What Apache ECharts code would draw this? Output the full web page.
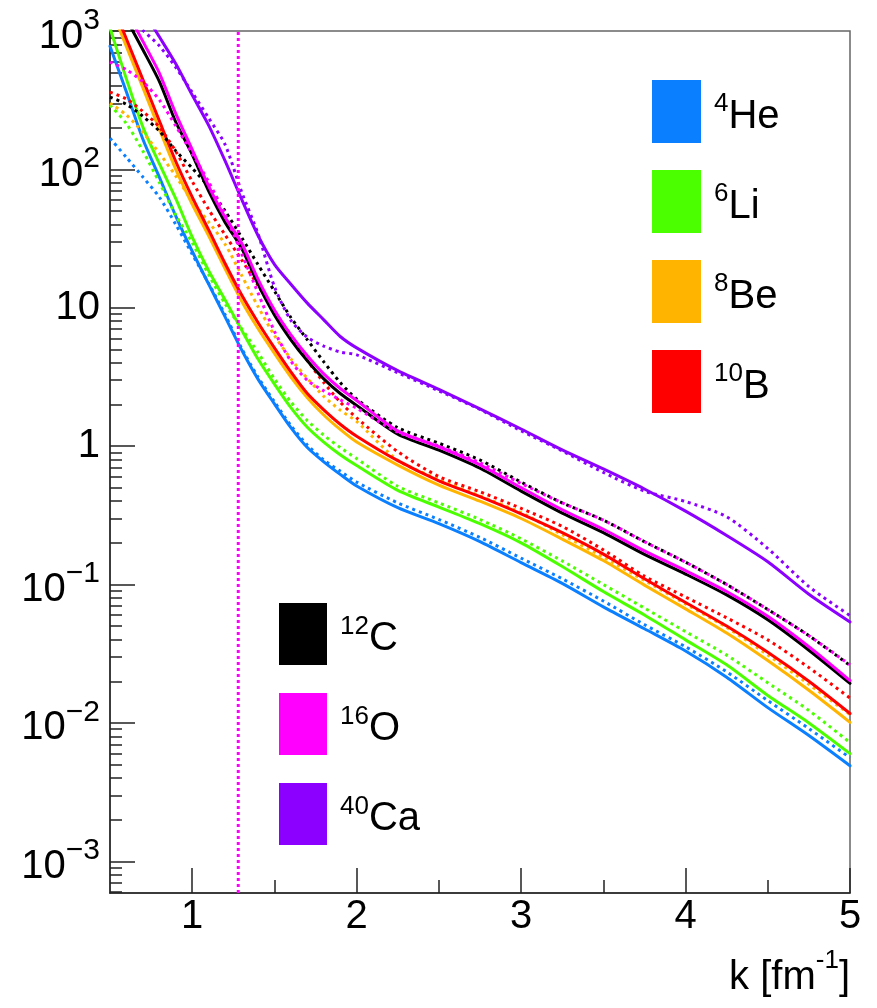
<!DOCTYPE html>
<html><head><meta charset="utf-8">
<script src="https://cdn.jsdelivr.net/npm/echarts@6/dist/echarts.min.js"></script>
<style>html,body{margin:0;padding:0;background:#fff;}#c{width:877px;height:1008px;}</style>
</head><body><div id="c"></div>
<script>
// ---------- data ----------
const K = [0.5,0.6,0.7,0.8,0.9,1.0,1.1,1.2,1.3,1.4,1.5,1.6,1.7,1.8,1.9,2.0,2.25,2.5,2.75,3.0,3.25,3.5,3.75,4.0,4.25,4.5,4.75,5.0];

const he4_solid = [776,363,165,88,46,25.6,14.8,8.6,4.97,3.05,2.02,1.36,0.977,0.77,0.625,0.515,0.359,0.275,0.204,0.144,0.102,0.069,0.0479,0.0331,0.0214,0.0129,0.0081,0.0049];
const he4_dash  = [168,122,88,63,40,24.4,15,8.9,5.1,3.16,2.09,1.41,1.02,0.794,0.66,0.55,0.389,0.295,0.219,0.155,0.11,0.076,0.0513,0.0355,0.0234,0.0145,0.0091,0.0056];
const li6_solid = [1050,449,202,110,61.4,32.4,18.5,11.4,6.92,4.26,2.81,1.9,1.37,1.07,0.867,0.724,0.479,0.363,0.275,0.2,0.135,0.089,0.0603,0.0398,0.0263,0.0158,0.01,0.006];
const li6_dash  = [292,214,136,80.5,46.8,29.5,17.3,10.7,7.08,4.75,3.06,2.09,1.53,1.2,0.977,0.813,0.513,0.389,0.295,0.214,0.148,0.1,0.0676,0.0457,0.0309,0.0195,0.0123,0.0072];
const be8_solid = [1530,771,389,195,100,56,33.1,19.1,11.2,7.08,4.68,3.16,2.24,1.68,1.32,1.07,0.73,0.523,0.40,0.30,0.213,0.149,0.099,0.0667,0.0446,0.0282,0.0172,0.0101];
const be8_dash  = [301,247,185,131,89.5,59,41.7,28.8,17.2,10.2,6.31,4.27,3.09,2.29,1.82,1.51,0.79,0.575,0.437,0.331,0.229,0.158,0.107,0.0724,0.049,0.031,0.019,0.0115];
const b10_solid = [1710,875,445,224,114,63,36.5,20.9,12.4,7.83,5.13,3.44,2.4,1.83,1.44,1.18,0.785,0.562,0.431,0.324,0.237,0.166,0.11,0.0741,0.0501,0.0324,0.02,0.0117];
const b10_dash  = [362,323,262,202,135,81.8,51.3,33.6,22.2,14.5,9.48,6.3,4.17,2.88,2.08,1.6,0.912,0.603,0.468,0.355,0.263,0.178,0.115,0.0813,0.0575,0.0398,0.0251,0.0151];
const c12_solid = [2018,1218,732,432,220,128,69.6,41.4,27.0,14.8,8.87,5.87,4.14,3.06,2.40,1.97,1.22,0.935,0.692,0.473,0.328,0.237,0.165,0.119,0.0841,0.0556,0.0335,0.0193];
const c12_dash  = [333,295,242,189,136,102,74.5,50.1,32.3,20.5,13.2,8.5,5.87,4.07,2.88,2.19,1.36,1.05,0.794,0.55,0.389,0.292,0.204,0.145,0.1,0.066,0.0427,0.026];
const o16_solid = [2320,1400,841,497,253,139,75.7,45,29.4,16.1,9.64,6.38,4.5,3.33,2.61,2.14,1.29,0.99,0.733,0.501,0.347,0.251,0.175,0.126,0.0891,0.0589,0.0355,0.0202];
const o16_dash  = [597,525,430,318,206,130,81.3,47.3,24.8,12.8,6.76,4.12,2.99,2.51,2.16,1.88,1.26,1.0,0.759,0.537,0.389,0.292,0.204,0.145,0.1,0.066,0.0427,0.0263];
const ca40_solid = [3550,2240,1410,908,579,344,208,115,61,33.3,20.6,14.8,10.8,8.18,6.2,5.13,3.51,2.57,1.86,1.33,0.94,0.684,0.49,0.339,0.226,0.146,0.0851,0.0537];
const ca40_dash  = [1590,1260,1010,781,546,360,235,151,69,34.3,14.2,8.11,6.12,5.28,4.79,4.57,3.39,2.51,1.84,1.29,0.923,0.646,0.473,0.398,0.309,0.182,0.0966,0.0596];

const NUCLEI = ['4He','6Li','8Be','10B','12C','16O','40Ca'];
const LEGEND_TOP = ['4He','6Li','8Be','10B'];
const LEGEND_BOTTOM = ['12C','16O','40Ca'];
const SOLID = [he4_solid, li6_solid, be8_solid, b10_solid, c12_solid, o16_solid, ca40_solid];
const DASH  = [he4_dash, li6_dash, be8_dash, b10_dash, c12_dash, o16_dash, ca40_dash];

const X_MIN = 0.5, X_MAX = 5;
const Y_MIN = 0.00059, Y_MAX = 1000;
const X_MAJOR = [1,2,3,4,5];
const X_MINOR = [1.5,2.5,3.5,4.5];
const Y_MAJOR = [0.001,0.01,0.1,1,10,100,1000];
const KF_LINE = 1.28;
const X_TITLE = ['k [fm','-1',']'];

// ---------- style ----------
const COLORS = ['#0a7fff','#4cff00','#ffb400','#ff0000','#000000','#ff00ff','#8c00ff'];
const FONT = 'Liberation Sans, Arial, Helvetica, sans-serif';
const AXIS_COLOR = '#222';

const Y_MINOR = [];
for (let e = -4; e <= 2; e++) {
  for (let m = 2; m <= 9; m++) {
    const v = Number((m * Math.pow(10, e)).toPrecision(3));
    if (v > Y_MIN && v < Y_MAX) Y_MINOR.push(v);
  }
}

const series = [];
NUCLEI.forEach((n, i) => {
  series.push({
    name: n, type: 'line', xAxisIndex: 0, yAxisIndex: 0,
    data: K.map((k, j) => [k, SOLID[i][j]]),
    symbol: 'none', showSymbol: false, smooth: 0.25,
    clip: true, silent: true, z: 2 + i * 2,
    lineStyle: { color: COLORS[i], width: 3, join: 'round', cap: 'round' },
    itemStyle: { color: COLORS[i] }
  });
  series.push({
    name: n + ' (dashed)', type: 'line', xAxisIndex: 0, yAxisIndex: 0,
    data: K.map((k, j) => [k, DASH[i][j]]),
    symbol: 'none', showSymbol: false, smooth: 0.25,
    clip: true, silent: true, z: 3 + i * 2,
    lineStyle: { color: COLORS[i], width: 3, type: [3, 4] },
    itemStyle: { color: COLORS[i] }
  });
});
// vertical reference line at k = KF_LINE
series.push({
  name: 'kF', type: 'line', xAxisIndex: 0, yAxisIndex: 0,
  data: [[KF_LINE, Y_MIN], [KF_LINE, Y_MAX]],
  symbol: 'none', showSymbol: false, clip: true, silent: true, z: 20,
  lineStyle: { color: '#ff00ff', width: 3, type: [3, 3] }
});

function yLabel(v) {
  const e = Math.round(Math.log10(v));
  if (e === 0) return '{p|1}';
  if (e === 1) return '{p|10}';
  const s = e < 0 ? '\u2212' + (-e) : String(e);
  return '{b|10}{e|' + s + '}';
}

function legendFmt(name) {
  const m = name.match(/^(\d+)(\D+)$/);
  return '{s|' + m[1] + '}{n|' + m[2] + '}';
}
const legendText = {
  fontSize: 40, fontFamily: FONT, color: '#000', padding: [0, 0, 0, 8],
  rich: {
    s: { fontSize: 26, verticalAlign: 'middle', padding: [0, 0, 15, 0], fontFamily: FONT, color: '#000' },
    n: { fontSize: 40, verticalAlign: 'middle', padding: [10, 0, 0, 0], fontFamily: FONT, color: '#000' }
  }
};

const legendColorMap = {};
NUCLEI.forEach((n, i) => legendColorMap[n] = COLORS[i]);

const option = {
  animation: false,
  backgroundColor: '#fff',
  grid: { left: 110, top: 31, right: 27, bottom: 115, show: true, borderColor: '#666', borderWidth: 1.5, backgroundColor: 'transparent' },
  legend: [
    { data: LEGEND_TOP.map(n => ({ name: n, icon: 'rect', itemStyle: { color: legendColorMap[n] } })),
      orient: 'vertical', left: 652, top: 80, padding: 0, itemWidth: 49, itemHeight: 63, itemGap: 27,
      selectedMode: false, formatter: legendFmt, textStyle: legendText },
    { data: LEGEND_BOTTOM.map(n => ({ name: n, icon: 'rect', itemStyle: { color: legendColorMap[n] } })),
      orient: 'vertical', left: 279, top: 603, padding: 0, itemWidth: 48, itemHeight: 62, itemGap: 28,
      selectedMode: false, formatter: legendFmt, textStyle: legendText }
  ],
  xAxis: [
    { type: 'value', min: X_MIN, max: X_MAX, position: 'bottom',
      axisLine: { show: true, onZero: false, lineStyle: { color: AXIS_COLOR, width: 1.5 } },
      axisTick: { show: true, inside: true, length: 25, customValues: X_MAJOR, lineStyle: { color: AXIS_COLOR, width: 1.5 } },
      axisLabel: { show: true, customValues: X_MAJOR, fontSize: 40, fontFamily: FONT, color: '#000', margin: 4,
        formatter: v => String(Math.round(v)) },
      splitLine: { show: false },
      name: '{n|' + X_TITLE[0] + '}{e|' + X_TITLE[1] + '}{n|' + X_TITLE[2] + '}',
      nameLocation: 'end', nameGap: 0,
      nameTextStyle: { align: 'right', verticalAlign: 'top', padding: [55, 0, 0, 0], fontSize: 40, fontFamily: FONT, color: '#000',
        rich: {
          n: { fontSize: 40, lineHeight: 50, verticalAlign: 'bottom', fontFamily: FONT, color: '#000' },
          e: { fontSize: 26, lineHeight: 30, verticalAlign: 'top', fontFamily: FONT, color: '#000' }
        } }
    },
    { type: 'value', min: X_MIN, max: X_MAX, position: 'bottom',
      axisLine: { show: false },
      axisTick: { show: true, inside: true, length: 13, customValues: X_MINOR, lineStyle: { color: AXIS_COLOR, width: 1.5 } },
      axisLabel: { show: false }, splitLine: { show: false } }
  ],
  yAxis: [
    { type: 'log', logBase: 10, min: Y_MIN, max: Y_MAX, position: 'left',
      axisLine: { show: true, onZero: false, lineStyle: { color: AXIS_COLOR, width: 1.5 } },
      axisTick: { show: true, inside: true, length: 25, customValues: Y_MAJOR, lineStyle: { color: AXIS_COLOR, width: 1.5 } },
      axisLabel: { show: true, customValues: Y_MAJOR, margin: 10, color: '#000', fontSize: 40, fontFamily: FONT,
        formatter: yLabel,
        rich: {
          p: { fontSize: 40, fontFamily: FONT, color: '#000' },
          b: { fontSize: 40, verticalAlign: 'middle', padding: [11, 0, 0, 0], fontFamily: FONT, color: '#000' },
          e: { fontSize: 30, verticalAlign: 'middle', padding: [0, 0, 21, 0], fontFamily: FONT, color: '#000' }
        } },
      splitLine: { show: false }, minorTick: { show: false } },
    { type: 'log', logBase: 10, min: Y_MIN, max: Y_MAX, position: 'left',
      axisLine: { show: false },
      axisTick: { show: true, inside: true, length: 12, customValues: Y_MINOR, lineStyle: { color: AXIS_COLOR, width: 1.5 } },
      axisLabel: { show: false }, splitLine: { show: false } }
  ],
  series: series
};

const chart = echarts.init(document.getElementById('c'), null, { renderer: 'canvas' });
chart.setOption(option);
</script>
</body></html>
